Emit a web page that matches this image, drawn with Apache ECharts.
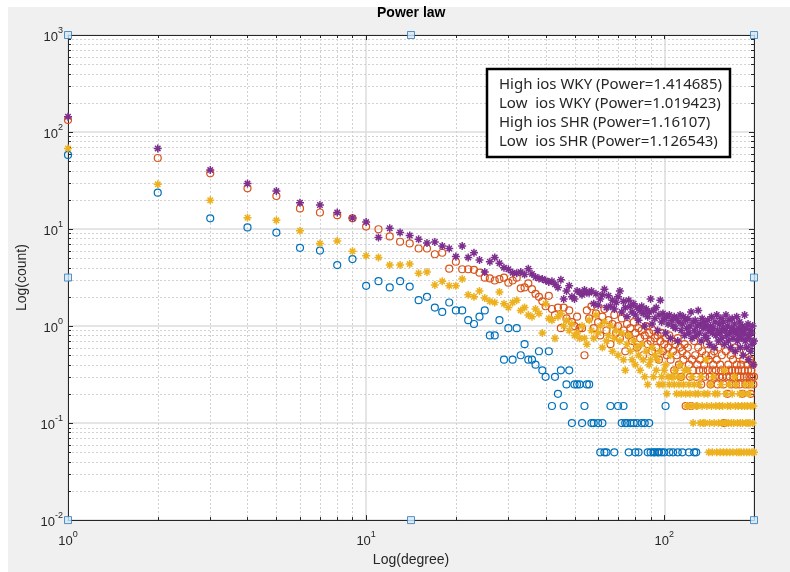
<!DOCTYPE html>
<html>
<head>
<meta charset="utf-8">
<script src="https://cdn.jsdelivr.net/npm/echarts@6.0.0/dist/echarts.min.js"></script>
<style>
html, body { margin: 0; padding: 0; background: #fff; }
#main { width: 790px; height: 572px; }
</style>
</head>
<body>
<div id="main"></div>
<script>
// legend names, MATLAB default colour order
var names = ['High ios WKY (Power=1.414685)', 'Low  ios WKY (Power=1.019423)',
             'High ios SHR (Power=1.16107)', 'Low  ios SHR (Power=1.126543)'];
var colors = ['#0072BD', '#D95319', '#EDB120', '#7E2F8E'];

// counts per degree, index 0 = degree 1 (null = no point)
var highWKY = [
  58, 23.7, 12.9, 10.4, 9.2, 6.4, 6.0, 4.25, 4.9, 2.6,
  2.9, 2.5, 2.9, 2.55, 1.85, 2.0, 1.55, 1.4, 1.75, 1.45,
  1.45, 1.15, 1.05, 1.25, 1.45, 0.8, 0.8, 1.15, 0.45, 0.95,
  0.45, 0.95, 0.5, 0.65, 0.45, 0.45, 0.4, 0.55, 0.35, 0.3,
  0.55, 0.15, 0.3, 0.2, 0.35, 0.15, 0.25, 0.35, 0.1, 0.25,
  0.25, 0.25, 0.1, 0.15, 0.25, 0.25, 0.1, 0.1, null, 0.1,
  0.05, 0.1, 0.05, 0.05, null, 0.15, null, 0.05, null, 0.15,
  null, 0.1, 0.15, 0.1, 0.1, 0.05, 0.1, null, 0.1, 0.05,
  0.1, 0.05, null, 0.1, null, 0.1, null, 0.05, 0.1, 0.05,
  null, 0.05, 0.05, null, 0.05, 0.05, null, 0.05, null, 0.05,
  0.15, null, null, 0.05, null, null, 0.05, null, null, null,
  0.05, null, null, null, 0.05, null, null, null, null, null,
  0.05, null, null, null, null, 0.05, null, 0.05
];
var lowWKY = [
  133, 54, 37.5, 26.3, 21.9, 16.3, 14.8, 13.9, 12.9, 10.6,
  9.95, 8.4, 7.4, 7.1, 6.3, 6.3, 5.5, 5.7, 3.9, 4.6,
  3.85, 3.85, 3.8, 3.55, 3.15, 3.1, 2.95, 3.05, 3.15, 2.8,
  2.95, 3.15, 2.45, 2.5, 2.75, 2.4, 2.15, 2.0, 1.8, 1.6,
  2.05, 1.5, 1.3, 1.55, 0.95, 1.55, 1.2, 1.45, 1.1, 1.0,
  1.25, 0.95, 0.95, 0.5, 1.45, 1.2, 1.6, 0.95, 1.35, 1.1,
  0.8, 1.25, 1.5, 0.9, 1.15, 0.65, 1.05, 1.3, 0.85, 1.0,
  0.75, 1.2, 0.9, 0.55, 1.05, 0.8, 0.95, 0.7, 1.1, 0.85,
  0.6, 0.95, 0.75, 0.9, 0.5, 0.8, 1.0, 0.65, 0.85, 0.7,
  0.55, 0.9, 0.75, 0.6, 0.8, 0.45, 0.7, 0.85, 0.55, 0.65,
  0.75, 0.5, 0.6, 0.8, 0.45, 0.7, 0.55, 0.35, 0.65, 0.5,
  0.75, 0.4, 0.6, 0.3, 0.55, 0.45, 0.65, 0.15, 0.5, 0.6,
  0.4, 0.3, 0.15, 0.45, 0.35, 0.7, 0.5, 0.3, 0.4, 0.6,
  0.35, 0.45, 0.25, 0.55, 0.35, 0.4, 0.3, 0.5, 0.65, 0.35,
  0.45, 0.3, 0.25, 0.5, 0.35, 0.4, 0.55, 0.3, 0.35, 0.45,
  0.25, 0.6, 0.3, 0.4, 0.35, 0.5, 0.3, 0.25, 0.1, 0.35,
  0.55, 0.3, 0.2, 0.4, 0.35, 0.3, 0.5, 0.25, 0.35, 0.45,
  0.3, 0.6, 0.35, 0.25, 0.4, 0.3, 0.35, 0.5, 0.25, 0.3,
  0.4, 0.35, 0.2, 0.45, 0.3, 0.35, 0.25, 0.55, 0.3, 0.4,
  0.35, 0.25, 0.3, 0.45, 0.2, 0.35, 0.3, 0.4, 0.25, 0.3
];
var highSHR = [
  67.8, 28.9, 19.8, 13.1, 12.3, 9.6, 7.1, 7.55, 5.9, 5.3,
  5.1, 4.25, 4.25, 4.35, 3.5, 3.6, 2.65, 2.9, 2.6, 2.6,
  3.05, 2.1, 2.0, 2.3, 1.95, 1.8, 1.75, 2.25, 1.7, 1.55,
  1.75, 1.85, 1.45, 1.55, 1.3, 1.25, 1.5, 1.35, 0.85, 1.7,
  1.2, 1.15, 0.75, 1.25, 1.35, 1.0, 1.15, 0.9, 1.05, 0.8,
  0.85, 0.75, 1.0, 0.75, 0.65, 1.15, 0.9, 0.75, 1.3, 0.85,
  1.0, 0.6, 1.1, 0.7, 0.8, 1.0, 0.55, 0.75, 0.9, 0.5,
  0.7, 0.85, 0.45, 0.35, 0.65, 0.8, 0.55, 0.45, 0.7, 0.4,
  0.6, 0.5, 0.35, 0.65, 0.45, 0.3, 0.55, 0.25, 0.4, 0.45,
  0.6, 0.3, 0.5, 0.35, 0.45, 0.25, 0.55, 0.3, 0.25, 0.35,
  0.4, 0.2, 0.3, 0.25, 0.5, 0.3, 0.3, 0.25, 0.35, 0.2,
  0.3, 0.25, 0.4, 0.2, 0.3, 0.25, 0.35, 0.2, 0.15, 0.35,
  0.25, 0.2, 0.15, 0.3, 0.1, 0.25, 0.2, 0.15, 0.15, 0.2,
  0.25, 0.1, 0.3, 0.15, 0.1, 0.2, 0.1, 0.45, 0.15, 0.2,
  0.05, 0.1, 0.25, 0.15, 0.05, 0.3, 0.1, 0.2, 0.15, 0.05,
  0.2, 0.1, 0.15, 0.05, 0.25, 0.1, 0.15, 0.05, 0.35, 0.1,
  0.2, 0.05, 0.15, 0.1, 0.25, 0.05, 0.15, 0.1, 0.2, 0.05,
  0.1, 0.3, 0.15, 0.25, 0.05, 0.1, 0.15, 0.05, 0.2, 0.1,
  0.05, 0.15, 0.1, 0.2, 0.05, 0.15, 0.25, 0.1, 0.05, 0.15,
  0.1, 0.2, 0.05, 0.1, 0.15, 0.25, 0.05, 0.1, 0.15, 0.05
];
var lowSHR = [
  144, 67.8, 40.5, 29.4, 24.6, 18.7, 17.7, 14.8, 13.0, 11.8,
  8.2, 10.2, 9.2, 8.6, 7.85, 7.2, 7.35, 6.7, 6.3, 5.2,
  6.7, 5.1, 5.7, 4.8, 3.6, 4.6, 5.1, 4.45, 4.0, 3.85,
  3.55, 3.5, 3.6, 3.4, 3.9, 3.45, 3.2, 3.1, 3.05, 2.95,
  2.85, 2.9, 2.7, 2.5, 3.0, 1.9, 2.3, 2.6, 2.0, 1.9,
  2.3, 2.25, 2.1, 2.35, 2.2, 2.2, 2.3, 1.7, 2.15, 1.65,
  1.9, 2.1, 2.4, 1.55, 2.05, 1.6, 1.85, 1.5, 1.75, 2.0,
  2.3, 1.4, 1.8, 1.55, 1.25, 1.85, 1.6, 1.4, 1.7, 1.3,
  1.55, 1.15, 1.45, 1.6, 1.35, 1.0, 1.5, 1.25, 1.4, 1.9,
  1.05, 1.45, 1.2, 1.55, 0.9, 1.3, 1.85, 1.1, 1.35, 1.2,
  0.85, 1.25, 1.05, 1.3, 0.75, 1.15, 1.0, 1.25, 0.95, 1.2,
  0.7, 1.1, 1.3, 0.9, 1.05, 1.25, 0.8, 1.15, 0.95, 1.2,
  0.85, 1.0, 1.4, 0.75, 1.1, 0.9, 1.15, 0.8, 1.0, 1.45,
  0.85, 1.05, 0.7, 1.2, 0.95, 1.1, 0.8, 1.0, 0.75, 1.15,
  0.9, 0.65, 1.0, 1.25, 0.85, 0.95, 0.6, 1.1, 0.8, 1.3,
  0.9, 0.7, 1.05, 0.85, 1.2, 0.75, 0.95, 1.1, 0.65, 0.9,
  1.3, 0.8, 1.0, 0.7, 1.15, 0.85, 0.6, 0.95, 1.2, 0.75,
  0.9, 1.05, 0.55, 0.85, 1.25, 0.7, 0.95, 0.8, 1.1, 0.6,
  0.9, 0.75, 1.0, 0.5, 0.85, 1.3, 0.7, 0.95, 0.6, 0.8,
  1.05, 0.45, 0.75, 0.9, 0.55, 0.85, 0.65, 1.0, 0.4, 0.7
];

// axis ranges and minor grid positions
var xMin = 1, xMax = 200, yMin = 0.01, yMax = 1000;
var minorX = [2, 3, 4, 5, 6, 7, 8, 9, 20, 30, 40, 50, 60, 70, 80, 90];
var minorY = [0.02, 0.03, 0.04, 0.05, 0.06, 0.07, 0.08, 0.09,
              0.2, 0.3, 0.4, 0.5, 0.6, 0.7, 0.8, 0.9,
              2, 3, 4, 5, 6, 7, 8, 9,
              20, 30, 40, 50, 60, 70, 80, 90,
              200, 300, 400, 500, 600, 700, 800, 900];

// selection handles of the axes box (corners + mid points)
var xMid = Math.sqrt(xMin * xMax), yMid = Math.sqrt(yMin * yMax);
var handles = [[xMin, yMax], [xMid, yMax], [xMax, yMax], [xMin, yMid],
               [xMax, yMid], [xMin, yMin], [xMid, yMin], [xMax, yMin]];

var FONT = 'Liberation Sans';
var INK = '#262626';
var STAR = 'path://M5,0L5,10M0,5L10,5M1.6,1.6L8.4,8.4M1.6,8.4L8.4,1.6';

function pairs(arr) {
  var out = [];
  arr.forEach(function (v, i) { if (v != null) out.push([i + 1, v]); });
  return out;
}

function powLabel(v) {
  var e = Math.log10(v), r = Math.round(e);
  if (Math.abs(e - r) > 1e-6) return '';
  return '{b|10}{s|' + r + '}';
}
var labelRich = {
  b: { fontSize: 13, fontFamily: FONT, color: INK, lineHeight: 18, verticalAlign: 'bottom' },
  s: { fontSize: 9, fontFamily: FONT, color: INK, lineHeight: 10, verticalAlign: 'top' }
};

function markers(i, data, symbol, size, bw) {
  return {
    name: names[i], type: 'scatter', data: pairs(data), symbol: symbol, symbolSize: size,
    clip: false, silent: true, z: 3,
    itemStyle: { color: 'rgba(0,0,0,0)', borderColor: colors[i], borderWidth: bw, opacity: 1 },
    emphasis: { disabled: true }
  };
}

var gridItems = [];
minorX.forEach(function (v) { gridItems.push([v, 1, 0]); });
minorY.forEach(function (v) { gridItems.push([1, v, 1]); });

function renderMinor(params, api) {
  var cs = params.coordSys;
  var dot = { stroke: '#d2d2d2', lineWidth: 1, lineDash: [2, 2], fill: null };
  var tk = { stroke: INK, lineWidth: 1, fill: null };
  if (api.value(2) === 0) {
    var x = Math.round(api.coord([api.value(0), 1])[0]) + 0.5;
    var t = cs.y, b = cs.y + cs.height;
    return { type: 'group', children: [
      { type: 'line', shape: { x1: x, y1: t, x2: x, y2: b }, style: dot },
      { type: 'line', shape: { x1: x, y1: b, x2: x, y2: b - 3 }, style: tk },
      { type: 'line', shape: { x1: x, y1: t, x2: x, y2: t + 3 }, style: tk }
    ]};
  }
  var y = Math.round(api.coord([1, api.value(1)])[1]) + 0.5;
  var l = cs.x, r = cs.x + cs.width;
  return { type: 'group', children: [
    { type: 'line', shape: { x1: l, y1: y, x2: r, y2: y }, style: dot },
    { type: 'line', shape: { x1: l, y1: y, x2: l + 3, y2: y }, style: tk },
    { type: 'line', shape: { x1: r, y1: y, x2: r - 3, y2: y }, style: tk }
  ]};
}

var axisLine = { show: true, lineStyle: { color: INK, width: 1 } };
var axisTick = { show: true, inside: true, length: 5, lineStyle: { color: INK, width: 1 } };
var majorGrid = { show: true, lineStyle: { color: '#dcdcdc', width: 1.5 } };

var chart = echarts.init(document.getElementById('main'));
chart.setOption({
  backgroundColor: '#f0f0f0',
  animation: false,
  graphic: [
    { type: 'rect', left: 0, top: 0, shape: { width: 790, height: 7 }, style: { fill: '#fff' }, silent: true },
    { type: 'rect', left: 0, top: 0, shape: { width: 8, height: 572 }, style: { fill: '#fff' }, silent: true }
  ],
  title: {
    text: 'Power law', left: 377, top: 6, padding: 0,
    textStyle: { fontFamily: FONT, fontSize: 14, fontWeight: 'bold', color: '#000' }
  },
  legend: {
    data: names, orient: 'vertical', left: 487, top: 69, icon: 'none',
    itemWidth: 0, itemHeight: 14, itemGap: 0, selectedMode: false,
    backgroundColor: '#fff', borderColor: '#000', borderWidth: 2.5,
    padding: [6, 8, 6, 7],
    textStyle: { fontFamily: 'Noto Sans', fontSize: 15, lineHeight: 19, color: INK }
  },
  grid: { left: 68, top: 35, width: 686, height: 486, show: true, backgroundColor: '#fff', borderWidth: 0 },
  xAxis: [{
    type: 'log', logBase: 10, min: xMin, max: xMax, position: 'bottom',
    axisLine: axisLine, axisTick: axisTick, splitLine: majorGrid,
    axisLabel: { formatter: powLabel, rich: labelRich, margin: 10 },
    name: 'Log(degree)', nameLocation: 'middle', nameGap: 24,
    nameTextStyle: { fontFamily: FONT, fontSize: 14, color: INK }
  }, {
    type: 'log', logBase: 10, min: xMin, max: xMax, position: 'top',
    axisLine: axisLine, axisTick: axisTick, splitLine: { show: false },
    axisLabel: { show: false }
  }],
  yAxis: [{
    type: 'log', logBase: 10, min: yMin, max: yMax, position: 'left',
    axisLine: axisLine, axisTick: axisTick, splitLine: majorGrid,
    axisLabel: { formatter: powLabel, rich: labelRich, margin: 5 },
    name: 'Log(count)', nameLocation: 'middle', nameGap: 35,
    nameTextStyle: { fontFamily: FONT, fontSize: 14, color: INK }
  }, {
    type: 'log', logBase: 10, min: yMin, max: yMax, position: 'right',
    axisLine: axisLine, axisTick: axisTick, splitLine: { show: false },
    axisLabel: { show: false }
  }],
  series: [
    { type: 'custom', data: gridItems, renderItem: renderMinor, silent: true, z: 1 },
    markers(0, highWKY, 'circle', 7, 1.2),
    markers(1, lowWKY, 'circle', 7, 1.2),
    markers(2, highSHR, STAR, 8, 1.5),
    markers(3, lowSHR, STAR, 8, 1.5),
    {
      type: 'scatter', data: handles, symbol: 'rect', symbolSize: 7, clip: false, silent: true, z: 5,
      itemStyle: { color: '#d3e7f6', borderColor: '#2b7bbd', borderWidth: 1 }
    }
  ]
});
</script>
</body>
</html>
